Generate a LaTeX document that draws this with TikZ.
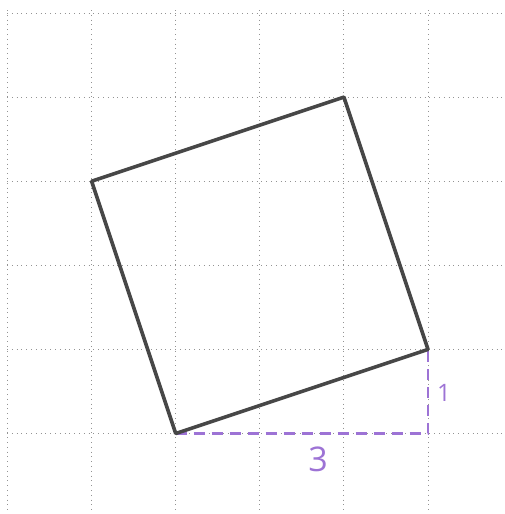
\documentclass[tikz,border=0pt]{standalone}
\usepackage{fontspec}
\setmainfont{Open Sans}
\begin{document}
\begin{tikzpicture}[x=1pt,y=-1pt,
  gridline/.style={draw=gray!85, line width=1pt, dash pattern=on 1pt off 3.8pt},
  sqedge/.style={draw=black!72, line width=3.6pt, line join=round, line cap=round},
  helper/.style={draw=violet!60!blue!55, line width=2.8pt, dash pattern=on 11pt off 7pt},
  lbl/.style={text=violet!60!blue!55, inner sep=0pt}]
\useasboundingbox (0,0) rectangle (504,514);
% grid
\foreach \k in {0,...,5} {
  \draw[gridline] ({7.5+84.1*\k},10) -- ({7.5+84.1*\k},514);
  \draw[gridline] (7,{433.5-84.1*\k}) -- (504,{433.5-84.1*\k});
}
% square corners
\coordinate (A) at (175.7,433.5);
\coordinate (B) at (428,349.4);
\coordinate (C) at (343.9,97.1);
\coordinate (D) at (91.6,181.2);
\coordinate (E) at (428,433.5);
% helper dashed lines
\draw[helper] (A) -- (E) -- (B);
% square
\draw[sqedge] (A) -- (B) -- (C) -- (D) -- cycle;
% labels
\node[lbl, font=\fontsize{34}{34}\selectfont] (three) at (318,459) {3};
\node[lbl, font=\fontsize{24}{24}\selectfont] (one) at (444,393) {1};
\end{tikzpicture}
\end{document}
